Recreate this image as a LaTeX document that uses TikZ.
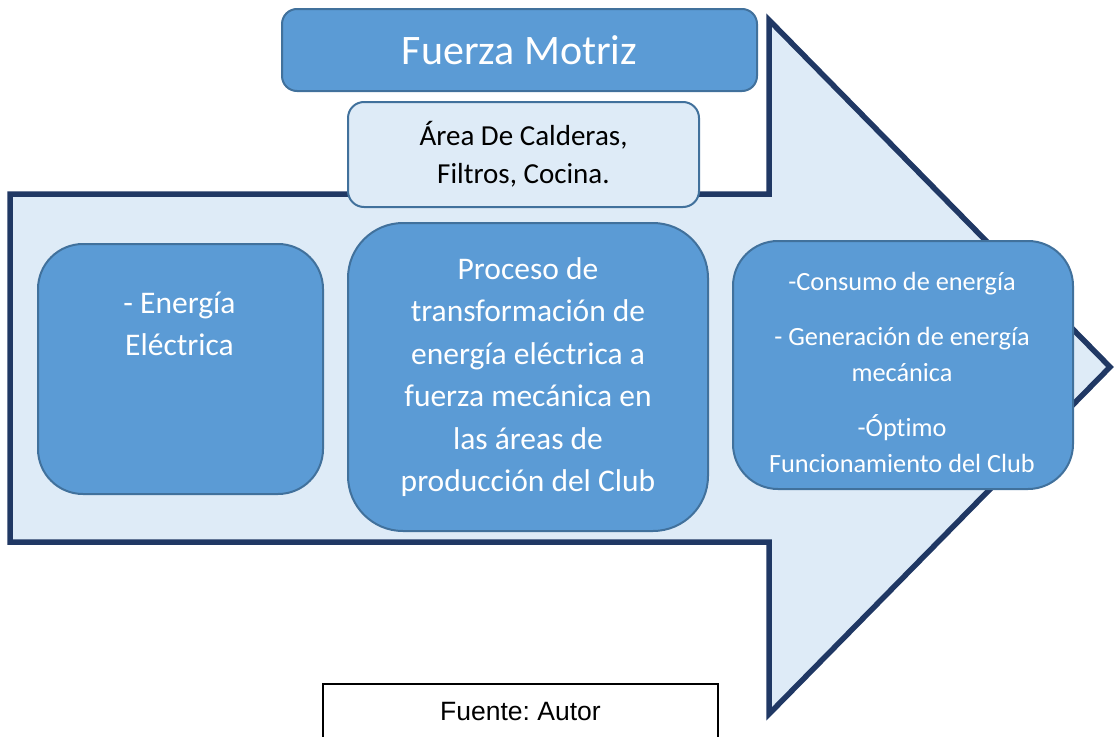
\documentclass[tikz,border=0pt]{standalone}
\usepackage{fontspec}
\setmainfont{Carlito}[Ligatures=NoCommon]
\newfontfamily\arialfont{Liberation Sans}
\definecolor{boxblue}{HTML}{5B9BD5}
\definecolor{boxedge}{HTML}{41719C}
\definecolor{paleblue}{HTML}{DEEBF7}
\definecolor{navy}{HTML}{203864}
\frenchspacing

\begin{document}
\begin{tikzpicture}[x=1pt,y=-1pt,
  bluebox/.style={draw=boxedge,fill=boxblue,line width=2pt,text=white,align=center,inner sep=0pt,anchor=north west},
  palebox/.style={draw=boxedge,fill=paleblue,line width=2pt,align=center,inner sep=0pt,anchor=north west,rounded corners=16pt},
  whitetext/.style={text=white,align=center,inner sep=0pt,anchor=base}]
\useasboundingbox (0,0) rectangle (1115,736);
\clip (0,0) rectangle (1115,736);

% big arrow
\draw[navy,line width=5.5pt,fill=paleblue] (10,194) -- (769,194) -- (769,20) -- (1110,367)
  -- (769,714) -- (769,542) -- (10,542) -- cycle;

\node[bluebox,rounded corners=15pt,minimum width=475pt,minimum height=82pt,
  font=\fontsize{42}{50}\selectfont] (motriz) at (281,8) {Fuerza Motriz};
\node[palebox,minimum width=351pt,minimum height=105pt,
  font=\fontsize{29}{38}\selectfont] (areas) at (347,101) {Área De Calderas,\\Filtros, Cocina.};

\node[bluebox,rounded corners=45pt,minimum width=285pt,minimum height=250pt] (energia) at (37,243) {};
\node[whitetext,font=\fontsize{31.5}{42}\selectfont] (energiatxt) at (179.5,355) {- Energía\\Eléctrica};

\node[bluebox,rounded corners=55pt,minimum width=360pt,minimum height=308pt,
  font=\fontsize{31.5}{42.4}\selectfont] (proceso) at (347,222)
  {Proceso de\\transformación de\\energía eléctrica a\\fuerza mecánica en\\las áreas de\\producción del Club};

\node[bluebox,rounded corners=45pt,minimum width=340pt,minimum height=248pt] (resultados) at (732,240) {};
\node[whitetext,font=\fontsize{26.3}{36}\selectfont] (resultadostxt) at (902,472)
  {-Consumo de energía\\[19pt]- Generación de energía\\mecánica\\[19pt]-Óptimo\\Funcionamiento del Club};

% source
\node[draw=black,line width=1.5pt,fill=white,minimum width=395pt,minimum height=56pt,anchor=north,
  font=\arialfont\fontsize{26.5}{32}\selectfont] (fuente) at (520.5,683) {Fuente: Autor};

\end{tikzpicture}
\end{document}
